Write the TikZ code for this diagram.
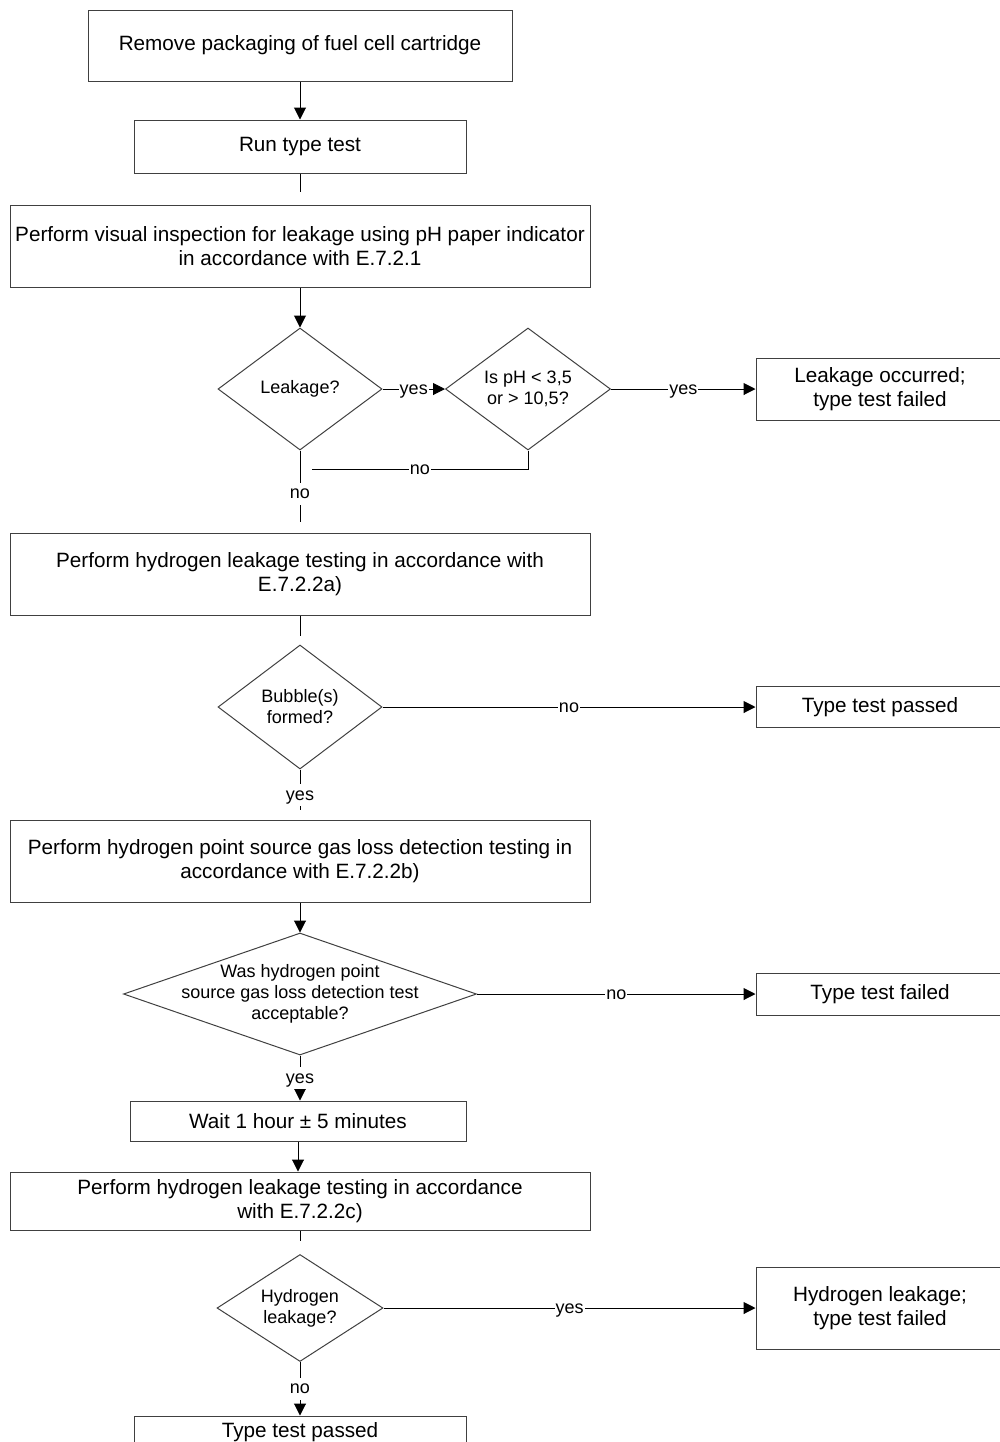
\documentclass[tikz,border=0pt]{standalone}
\usepackage{fontspec}
\setmainfont{Liberation Sans}
\usetikzlibrary{shapes.geometric,arrows.meta}

\begin{document}
\begin{tikzpicture}[x=0.5pt,y=-0.5pt,line width=0.5pt,
    box/.style={draw=black!75,align=center,inner sep=0pt,
      font=\fontsize{10.35}{12}\selectfont},
    dia/.style={draw=black!75,diamond,inner sep=0pt},
    dtxt/.style={align=center,font=\fontsize{9}{10.5}\selectfont},
    lbl/.style={fill=white,inner xsep=0.5pt,inner ysep=1pt,text height=7pt,
      text depth=2pt,font=\fontsize{9}{10.5}\selectfont},
    flow/.style={-{Triangle[length=6pt,width=6pt]}}]
  \useasboundingbox (0,0) rectangle (1000,1442);
  % main column
  \node[box,minimum width=212pt,minimum height=35.5pt] (remove) at (300,45.5)
    {Remove packaging of fuel cell cartridge};
  \node[box,minimum width=166pt,minimum height=26.5pt] (runtest) at (300,146.5)
    {Run type test};
  \node[box,minimum width=290pt,minimum height=41pt] (visual) at (300,246)
    {Perform visual inspection for leakage using pH paper indicator\\in accordance with E.7.2.1};
  \node[dia,minimum width=82pt,minimum height=61pt] (leak) at (300,389) {};
  \node[dtxt] (leaktxt) at (leak) {Leakage?};
  \node[dia,minimum width=82.5pt,minimum height=61pt] (ph) at (528,389) {};
  \node[dtxt] (phtxt) at (ph) {Is pH < 3,5\\or > 10,5?};
  \node[box,minimum width=124pt,minimum height=31pt] (occurred) at (880,389)
    {Leakage occurred;\\type test failed};
  \node[box,minimum width=290pt,minimum height=41pt] (testa) at (300,574)
    {Perform hydrogen leakage testing in accordance with\\E.7.2.2a)};
  \node[dia,minimum width=82pt,minimum height=62pt] (bubble) at (300,707) {};
  \node[dtxt] (bubbletxt) at (bubble) {Bubble(s)\\formed?};
  \node[box,minimum width=124pt,minimum height=20.5pt] (passed) at (880,707)
    {Type test passed};
  \node[box,minimum width=290pt,minimum height=41pt] (testb) at (300,861)
    {Perform hydrogen point source gas loss detection testing in\\accordance with E.7.2.2b)};
  \node[dia,minimum width=176.5pt,minimum height=61pt] (accept) at (300,994) {};
  \node[dtxt] (accepttxt) at (accept)
    {Was hydrogen point\\source gas loss detection test\\acceptable?};
  \node[box,minimum width=124pt,minimum height=21pt] (failed) at (880,994)
    {Type test failed};
  \node[box,minimum width=168pt,minimum height=20pt] (wait) at (298,1121)
    {Wait 1 hour ± 5 minutes};
  \node[box,minimum width=290pt,minimum height=29pt] (testc) at (300,1201)
    {Perform hydrogen leakage testing in accordance\\with E.7.2.2c)};
  \node[dia,minimum width=83pt,minimum height=53.5pt] (hydro) at (300,1308) {};
  \node[dtxt] (hydrotxt) at (hydro) {Hydrogen\\leakage?};
  \node[box,minimum width=124pt,minimum height=41pt] (hfailed) at (880,1308)
    {Hydrogen leakage;\\type test failed};
  \node[box,minimum width=166pt,minimum height=16pt] (passed2) at (300,1432)
    {Type test passed};
  % connectors
  \draw[flow] (remove) -- (runtest);
  \draw[shorten >=6.5pt] (runtest) -- (visual);
  \draw[flow] (visual) -- (leak);
  \draw[flow] (leak) -- node[lbl]{yes} (ph);
  \draw[flow] (ph) -- node[lbl]{yes} (occurred);
  \coordinate (nojoin) at (312,469);
  \draw (ph.south) |- node[lbl,pos=0.75]{no} (nojoin);
  \draw[shorten >=5.5pt] (leak) -- node[lbl,pos=0.53]{no} (testa);
  \draw[shorten >=4.5pt] (testa) -- (bubble);
  \draw[flow] (bubble) -- node[lbl]{no} (passed);
  \draw[shorten >=5pt] (bubble) -- node[lbl,pos=0.51]{yes} (testb);
  \draw[flow] (testb) -- (accept);
  \draw[flow] (accept) -- node[lbl]{no} (failed);
  \draw[flow] (accept.south) -- node[lbl]{yes} (accept.south |- wait.north);
  \draw[flow] (wait.south) -- (wait.south |- testc.north);
  \draw[shorten >=6.5pt] (testc) -- (hydro);
  \draw[flow] (hydro) -- node[lbl]{yes} (hfailed);
  \draw[flow] (hydro) -- node[lbl]{no} (passed2);
\end{tikzpicture}
\end{document}
